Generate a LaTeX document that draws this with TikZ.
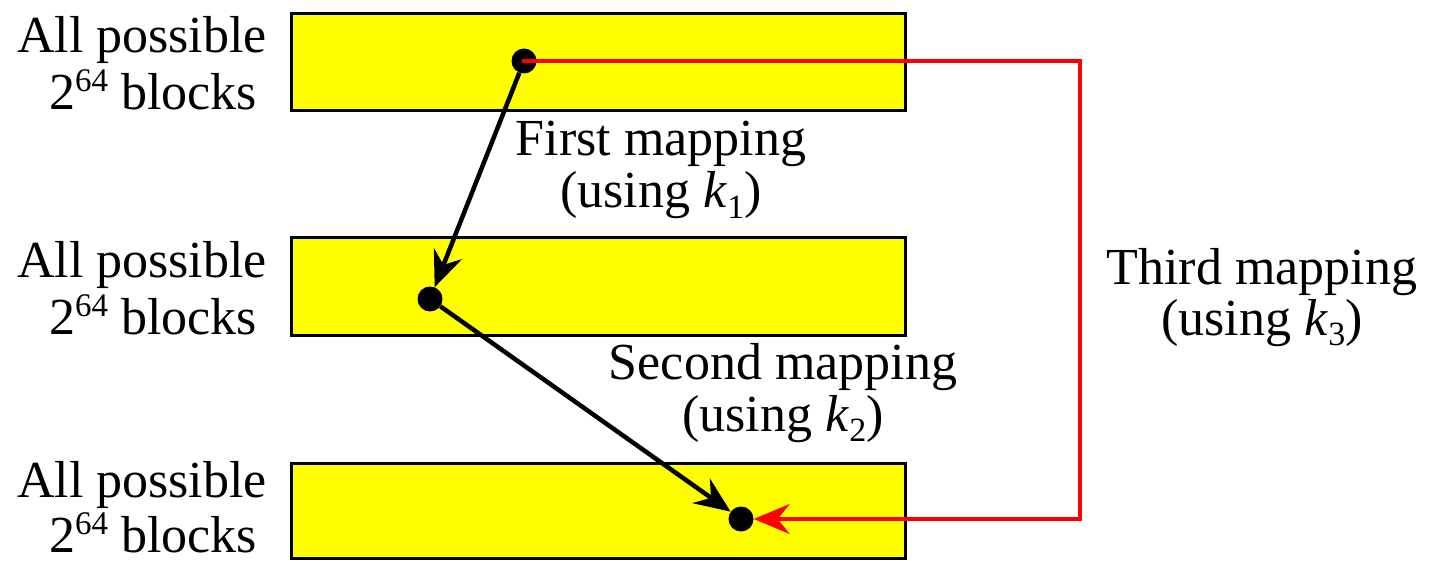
\documentclass[tikz,border=0pt]{standalone}
\usepackage{fontspec}
\setmainfont{Liberation Serif}
\usetikzlibrary{arrows.meta}
\newcommand{\mysup}[1]{\raisebox{18pt}{\fontsize{33}{33}\selectfont #1}}
\newcommand{\mysub}[1]{\raisebox{-10pt}{\fontsize{34}{34}\selectfont #1}}
\definecolor{boxyellow}{RGB}{255,255,0}
\definecolor{linered}{RGB}{255,0,0}
\begin{document}
\begin{tikzpicture}[x=1pt,y=-1pt,
  blockbox/.style={draw=black,line width=3pt,fill=boxyellow},
  lbl/.style={anchor=base,font=\fontsize{52}{58}\selectfont,inner sep=0pt},
  dot/.style={circle,fill=black,minimum size=25pt,inner sep=0pt},
  blk/.style={line width=4.5pt,-{Stealth[length=36pt,width=30pt,inset=12pt]}},
  redline/.style={draw=linered,line width=3.5pt}]
\useasboundingbox (0,0) rectangle (1431,561);
\draw[blockbox] (291,14) rectangle (905,111);
\draw[blockbox] (291,238) rectangle (905,335);
\draw[blockbox] (291,463) rectangle (905,558);
\node[lbl] (l1a) at (142,53) {All possible};
\node[lbl] (l1b) at (153,110) {2\mysup{64} blocks};
\node[lbl] (l2a) at (142,277) {All possible};
\node[lbl] (l2b) at (153,334) {2\mysup{64} blocks};
\node[lbl] (l3a) at (142,497) {All possible};
\node[lbl] (l3b) at (153,552) {2\mysup{64} blocks};
\node[dot] (d1) at (524,61) {};
\node[dot] (d2) at (430,299) {};
\node[dot] (d3) at (741,519) {};
\coordinate (c1) at (1080,61);
\coordinate (c2) at (1080,519);
\draw[redline,line cap=rect] (d1.center) -- (c1) -- (c2);
\draw[redline,-{Stealth[length=36pt,width=30pt,inset=12pt]}] (c2) -- (d3);
\draw[blk] (d1) -- (d2);
\draw[blk] (d2) -- (d3);
\node[lbl] (t1a) at (661,156) {First mapping};
\node[lbl] (t1b) at (661,208) {(using \textit{k}\mysub{1})};
\node[lbl] (t2a) at (783,379) {Second mapping};
\node[lbl] (t2b) at (783,431) {(using \textit{k}\mysub{2})};
\node[lbl] (t3a) at (1262,284) {Third mapping};
\node[lbl] (t3b) at (1262,335) {(using \textit{k}\mysub{3})};
\end{tikzpicture}
\end{document}
